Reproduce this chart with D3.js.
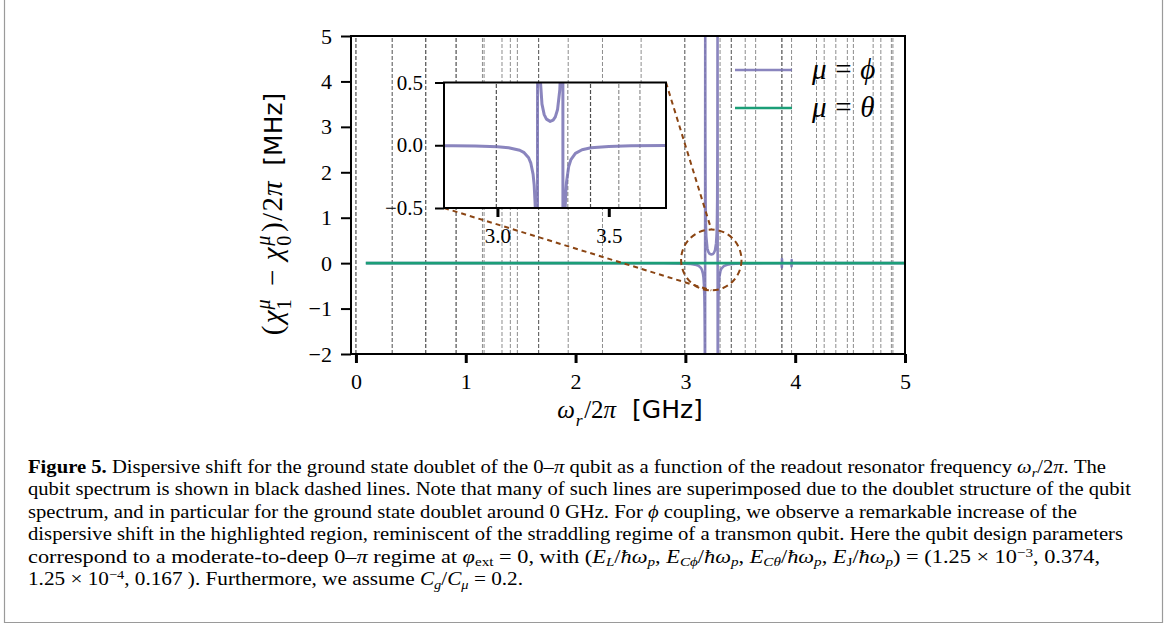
<!DOCTYPE html>
<html>
<head>
<meta charset="utf-8">
<script src="https://cdn.jsdelivr.net/npm/d3@7"></script>
<style>
  body { margin: 0; background: #fff; }
  svg { display: block; }
</style>
</head>
<body>
<svg id="fig" width="1168" height="626"></svg>
<script>
// ---- data ----------------------------------------------------------------
// qubit transition frequencies (GHz) and how many transitions sit on each line
const qubitFreqs = [0.0, 0.33, 0.636, 0.912, 1.152, 1.167, 1.33, 1.406, 1.47, 1.664,
  1.933, 2.245, 2.597, 2.995, 3.18, 3.316, 3.418, 3.545, 3.64, 3.879, 3.967,
  4.194, 4.264, 4.37, 4.475, 4.53, 4.71, 4.78, 4.876, 4.89];
const qubitDeg = [3, 2, 3, 3, 1, 1, 1, 1, 1, 2,
  1, 1, 1, 2, 1, 1, 2, 1, 1, 3, 1,
  1, 1, 1, 1, 1, 1, 1, 1, 1];

// dispersive shift, phi coupling (MHz) vs readout frequency (GHz)
const phiX = [0.09, 0.5, 1.0, 1.5, 2.0, 2.5, 2.8, 2.9, 3.0, 3.05, 3.1,
  3.12, 3.14, 3.15, 3.16, 3.165, 3.17, 3.173, 3.175, 3.177, 3.178, 3.179,
  3.181, 3.182, 3.184, 3.187, 3.19, 3.2, 3.21, 3.22, 3.237, 3.25,
  3.26, 3.27, 3.28, 3.285, 3.288, 3.29, 3.292, 3.293,
  3.295, 3.296, 3.298, 3.3, 3.303, 3.307, 3.31, 3.32, 3.33, 3.35,
  3.38, 3.42, 3.5, 3.6, 3.75, 3.87, 3.877, 3.8785, 3.8795, 3.881, 3.888,
  3.96, 3.966, 3.967, 3.968, 3.969, 3.975, 4.2, 4.6, 5.0];
const phiY = [-0.0001, -0.0001, -0.0001, -0.0002, -0.0004, -0.0011, -0.0033, -0.0056, -0.0116, -0.0194, -0.0397,
  -0.059, -0.1, -0.143, -0.23, -0.318, -0.497, -0.727, -1.035, -1.755, -2.66, -5.36,
  5.45, 2.75, 1.40, 0.822, 0.592, 0.328, 0.244, 0.208, 0.19, 0.2,
  0.226, 0.285, 0.44, 0.652, 0.95, 1.4, 2.75, 5.45,
  -5.36, -2.66, -1.3, -0.856, -0.556, -0.373, -0.296, -0.169, -0.114, -0.065,
  -0.036, -0.0204, -0.0093, -0.0048, -0.0024, -0.002, -0.02, -0.09, 0.09, 0.02, 0.003,
  -0.002, -0.015, -0.07, 0.07, 0.015, 0.002, 0.001, 0.0005, 0.0003];

// dispersive shift, theta coupling (MHz)
const thetaX = [0.09, 1.0, 2.0, 3.0, 4.0, 5.0];
const thetaY = [0, 0, 0, 0, 0, 0];

const xTicks = [0, 1, 2, 3, 4, 5];
const yTicks = [-2, -1, 0, 1, 2, 3, 4, 5];
const insetXTicks = [3.0, 3.5];
const insetYTicks = [-0.5, 0.0, 0.5];
const seriesNames = ["ϕ", "θ"];

// highlighted region: centre (GHz, MHz) and half extents
const zoomCentre = [3.236, 0.07];
const zoomHalf = [0.275, 0.67];

// ---- layout ----------------------------------------------------------------
const svg = d3.select("#fig");
const PURPLE = "#7570b3", GREEN = "#1b9e77", BROWN = "#8b4513";
const SERIF = "'Liberation Serif', 'DejaVu Serif', serif";
const SANS = "'DejaVu Sans', sans-serif";

const x = d3.scaleLinear().domain([-0.045, 5]).range([351, 905]);
const y = d3.scaleLinear().domain([-2, 5]).range([354, 36]);
const xi = d3.scaleLinear().domain([2.76, 3.757]).range([444, 666]);
const yi = d3.scaleLinear().domain([-0.5, 0.5]).range([208, 82.5]);

const fmtTick = d => (d < 0 ? "\u2212" : "") + Math.abs(d);
const fmtTick1 = d => (d < 0 ? "\u2212" : "") + Math.abs(d).toFixed(1);

// figure border
svg.append("path").attr("d", "M4.5,0 V622.5 H1162.5 V0")
  .attr("stroke", "#9a9a9a").attr("stroke-width", 1.2).attr("fill", "none");

const defs = svg.append("defs");
defs.append("clipPath").attr("id", "clipMain").append("rect")
  .attr("x", x.range()[0]).attr("y", y.range()[1])
  .attr("width", x.range()[1] - x.range()[0]).attr("height", y.range()[0] - y.range()[1]);
defs.append("clipPath").attr("id", "clipInset").append("rect")
  .attr("x", xi.range()[0]).attr("y", yi.range()[1])
  .attr("width", xi.range()[1] - xi.range()[0]).attr("height", yi.range()[0] - yi.range()[1]);

const lineOpacity = k => 1 - Math.pow(0.55, k);
const qubit = qubitFreqs.map((f, i) => ({ f, k: qubitDeg[i] }));
const phiData = phiX.map((v, i) => [v, phiY[i]]);
const thetaData = thetaX.map((v, i) => [v, thetaY[i]]);

// ---- main panel ----------------------------------------------------------------
const main = svg.append("g").attr("clip-path", "url(#clipMain)");
main.selectAll("line.q").data(qubit).join("line")
  .attr("x1", d => x(d.f)).attr("x2", d => x(d.f))
  .attr("y1", y(-2)).attr("y2", y(5))
  .attr("stroke", "#000").attr("stroke-opacity", d => lineOpacity(d.k))
  .attr("stroke-width", 1).attr("stroke-dasharray", "4,2");

const lineMain = d3.line().x(d => x(d[0])).y(d => y(d[1]));
main.append("path").datum(phiData).attr("d", lineMain)
  .attr("fill", "none").attr("stroke", PURPLE).attr("stroke-width", 2.6).attr("stroke-opacity", 0.85)
  .attr("stroke-linejoin", "round");
main.append("path").datum(thetaData).attr("d", lineMain)
  .attr("fill", "none").attr("stroke", GREEN).attr("stroke-width", 2.6);

svg.append("rect").attr("x", x.range()[0]).attr("y", y.range()[1])
  .attr("width", x.range()[1] - x.range()[0]).attr("height", y.range()[0] - y.range()[1])
  .attr("fill", "none").attr("stroke", "#000").attr("stroke-width", 2);

const xAxis = svg.append("g").attr("transform", `translate(0,${y(-2)})`)
  .call(d3.axisBottom(x).tickValues(xTicks).tickFormat(fmtTick).tickSize(9).tickPadding(10));
const yAxis = svg.append("g").attr("transform", `translate(${x.range()[0]},0)`)
  .call(d3.axisLeft(y).tickValues(yTicks).tickFormat(fmtTick).tickSize(10).tickPadding(9));
[xAxis, yAxis].forEach(a => {
  a.select(".domain").remove();
  a.selectAll(".tick line").attr("stroke", "#000");
  a.selectAll(".tick text").attr("font-family", SERIF).attr("font-size", 22).attr("fill", "#000");
});
xAxis.selectAll(".tick line").attr("stroke-width", 3);
yAxis.selectAll(".tick line").attr("stroke-width", 2);

// ---- highlighted region and connectors ----------------------------------------
const ex = x(zoomCentre[0]), ey = y(zoomCentre[1]);
const erx = x(zoomCentre[0] + zoomHalf[0]) - ex, ery = ey - y(zoomCentre[1] + zoomHalf[1]);
svg.append("line")
  .attr("x1", xi(xi.domain()[0])).attr("y1", yi(yi.domain()[0]))
  .attr("x2", ex).attr("y2", ey + ery)
  .attr("stroke", BROWN).attr("stroke-width", 2).attr("stroke-dasharray", "5,4");
svg.append("line")
  .attr("x1", xi(xi.domain()[1])).attr("y1", yi(yi.domain()[1]))
  .attr("x2", ex).attr("y2", ey - ery)
  .attr("stroke", BROWN).attr("stroke-width", 2).attr("stroke-dasharray", "5,4");
svg.append("ellipse").attr("cx", ex).attr("cy", ey).attr("rx", erx).attr("ry", ery)
  .attr("fill", "none").attr("stroke", BROWN).attr("stroke-width", 2).attr("stroke-dasharray", "6,4");

// ---- inset ----------------------------------------------------------------
svg.append("rect").attr("x", xi.range()[0]).attr("y", yi.range()[1])
  .attr("width", xi.range()[1] - xi.range()[0]).attr("height", yi.range()[0] - yi.range()[1])
  .attr("fill", "#fff");
const inset = svg.append("g").attr("clip-path", "url(#clipInset)");
inset.selectAll("line.q").data(qubit.filter(d => d.f > xi.domain()[0] && d.f < xi.domain()[1])).join("line")
  .attr("x1", d => xi(d.f)).attr("x2", d => xi(d.f))
  .attr("y1", yi(-0.5)).attr("y2", yi(0.5))
  .attr("stroke", "#000").attr("stroke-opacity", d => lineOpacity(d.k))
  .attr("stroke-width", 1.2).attr("stroke-dasharray", "4,2");
inset.append("path").datum(phiData)
  .attr("d", d3.line().x(d => xi(d[0])).y(d => yi(d[1])))
  .attr("fill", "none").attr("stroke", PURPLE).attr("stroke-width", 3).attr("stroke-opacity", 0.85)
  .attr("stroke-linejoin", "round");
svg.append("rect").attr("x", xi.range()[0]).attr("y", yi.range()[1])
  .attr("width", xi.range()[1] - xi.range()[0]).attr("height", yi.range()[0] - yi.range()[1])
  .attr("fill", "none").attr("stroke", "#000").attr("stroke-width", 2);
const ixAxis = svg.append("g").attr("transform", `translate(0,${yi(-0.5)})`)
  .call(d3.axisBottom(xi).tickValues(insetXTicks).tickFormat(fmtTick1).tickSize(9).tickPadding(11));
const iyAxis = svg.append("g").attr("transform", `translate(${xi.range()[0]},0)`)
  .call(d3.axisLeft(yi).tickValues(insetYTicks).tickFormat(fmtTick1).tickSize(9).tickPadding(12));
[ixAxis, iyAxis].forEach(a => {
  a.select(".domain").remove();
  a.selectAll(".tick line").attr("stroke", "#000");
  a.selectAll(".tick text").attr("font-family", SERIF).attr("font-size", 21).attr("fill", "#000");
});
ixAxis.selectAll(".tick line").attr("stroke-width", 3);
iyAxis.selectAll(".tick line").attr("stroke-width", 2);

// ---- math set piece by piece ----------------------------------------
// each piece may carry its own size (p.size) and extra trailing space (p.gap, in em)
function setMath(g, pieces, size) {
  let cx = 0;
  pieces.forEach(p => {
    const s = p.size || size;
    if (p.sup !== undefined || p.sub !== undefined) {
      let w = 0;
      [["sup", -0.42, p.supIt], ["sub", 0.3, p.subIt]].forEach(([k, off, it]) => {
        if (p[k] === undefined) return;
        const t = g.append("text").attr("x", cx + 0.04 * s).attr("y", off * s)
          .attr("font-family", SERIF).attr("font-style", it ? "italic" : "normal")
          .attr("font-size", s * 0.7).text(p[k]);
        w = Math.max(w, t.node().getComputedTextLength());
      });
      cx += w + 0.1 * s;
    } else {
      const pad = (p.pad || 0) * s;
      const t = g.append("text").attr("x", cx + pad).attr("y", 0)
        .attr("font-family", p.sans ? SANS : SERIF)
        .attr("font-style", p.it ? "italic" : "normal")
        .attr("font-size", s).text(p.t);
      cx += t.node().getComputedTextLength() + 2 * pad;
    }
    cx += (p.gap || 0) * s;
  });
  return cx;
}

// ---- legend ----------------------------------------------------------------
const legendColors = [PURPLE, GREEN];
seriesNames.forEach((name, i) => {
  const ly = 70 + i * 38;
  svg.append("line").attr("x1", 735).attr("x2", 792).attr("y1", ly).attr("y2", ly)
    .attr("stroke", legendColors[i]).attr("stroke-width", 2.6).attr("stroke-opacity", i === 0 ? 0.85 : 1);
  const g = svg.append("g").attr("transform", `translate(812,${ly + 9})`);
  setMath(g, [{ t: "μ", it: true }, { t: "=", pad: 0.3 }, { t: name, it: true }], 29);
});

// ---- axis labels ----------------------------------------------------------------
const xl = svg.append("g");
const xlw = setMath(xl.append("g"), [
  { t: "ω", it: true }, { sub: "r", subIt: true }, { t: "/2" }, { t: "π", it: true },
  { t: "\u00a0\u00a0[GHz]", sans: true }
], 25);
xl.attr("transform", `translate(${630 - xlw / 2},418)`);

const yl = svg.append("g").attr("transform", "translate(282,214) rotate(-90)");
const ylInner = yl.append("g");
const ylw = setMath(ylInner, [
  { t: "(", gap: 0.08 }, { t: "χ", it: true }, { sup: "μ", supIt: true, sub: "1", gap: 0.08 },
  { t: "\u2212", pad: 0.32 }, { t: "χ", it: true, gap: 0.02 }, { sup: "μ", supIt: true, sub: "0", gap: 0.06 },
  { t: ")", gap: 0.05 }, { t: "/", gap: 0.05 }, { t: "2", gap: 0.03 }, { t: "π", it: true },
  { t: "\u00a0\u00a0[MHz]", sans: true, size: 25 }
], 29);
ylInner.attr("transform", `translate(${-ylw / 2},0)`);

// ---- caption ----------------------------------------------------------------
const captionLines = [
  [["Figure 5.", "b"], " Dispersive shift for the ground state doublet of the 0–", ["π", "i"],
   " qubit as a function of the readout resonator frequency ", ["ω", "i"], ["r", "_i"], "/2", ["π", "i"], ". The"],
  ["qubit spectrum is shown in black dashed lines. Note that many of such lines are superimposed due to the doublet structure of the qubit"],
  ["spectrum, and in particular for the ground state doublet around 0 GHz. For ", ["ϕ", "i"], " coupling, we observe a remarkable increase of the"],
  ["dispersive shift in the highlighted region, reminiscent of the straddling regime of a transmon qubit. Here the qubit design parameters"],
  ["correspond to a moderate-to-deep 0–", ["π", "i"], " regime at ", ["φ", "i"], ["ext", "_"], " = 0, with (", ["E", "i"], ["L", "_i"],
   "/", ["ħω", "i"], ["p", "_i"], ", ", ["E", "i"], ["Cϕ", "_i"], "/", ["ħω", "i"], ["p", "_i"], ", ",
   ["E", "i"], ["Cθ", "_i"], "/", ["ħω", "i"], ["p", "_i"], ", ", ["E", "i"], ["J", "_"], "/", ["ħω", "i"], ["p", "_i"],
   ") = (1.25 × 10", ["−3", "^"], ", 0.374,"],
  ["1.25 × 10", ["−4", "^"], ", 0.167 ). Furthermore, we assume ", ["C", "i"], ["g", "_i"], "/", ["C", "i"], ["μ", "_i"], " = 0.2."]
];
const captionEnds = [1106, 1131, 1077, 1123, 1100, 523];
const capSize = 19;
const cap = svg.append("g").attr("font-family", SERIF).attr("fill", "#000").attr("font-size", capSize);
captionLines.forEach((segs, i) => {
  const t = cap.append("text").attr("x", 28).attr("y", 473 + i * 22.4);
  let shift = 0;
  segs.forEach(s => {
    const [txt, f] = typeof s === "string" ? [s, ""] : s;
    const target = f.includes("_") ? 0.2 * capSize : f.includes("^") ? -0.32 * capSize : 0;
    const ts = t.append("tspan").text(txt);
    if (target !== shift) { ts.attr("dy", target - shift); shift = target; }
    if (f.includes("b")) ts.attr("font-weight", "bold");
    if (f.includes("i")) ts.attr("font-style", "italic");
    if (f.includes("_") || f.includes("^")) ts.attr("font-size", capSize * 0.68);
  });
  t.attr("textLength", captionEnds[i] - 28).attr("lengthAdjust", "spacingAndGlyphs");
});
</script>
</body>
</html>
